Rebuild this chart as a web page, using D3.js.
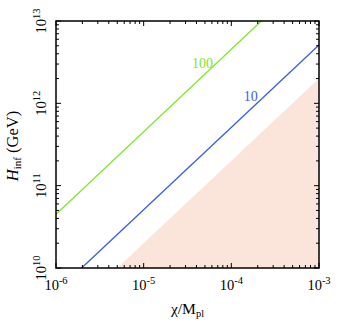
<!DOCTYPE html>
<html>
<head>
<meta charset="utf-8">
<script src="https://cdn.jsdelivr.net/npm/d3@7"></script>
<style>
  body { margin: 0; background: #fff; }
  svg text { font-family: "Liberation Serif", "Times New Roman", serif; }
</style>
</head>
<body>
<svg></svg>
<script>
var width = 352,
    height = 323;
var margin = {left: 56, right: 33, top: 21, bottom: 55};

// data
var chiDomain = [1e-6, 1e-3];
var hDomain = [1e10, 1e13];
var majorX = [1e-6, 1e-5, 1e-4, 1e-3];
var majorY = [1e10, 1e11, 1e12, 1e13];
var line100 = [[1e-6, 4.5e10], [2.2e-4, 1e13]];
var line10 = [[1.96e-6, 1e10], [1e-3, 5.1e12]];
var excluded = [[5e-6, 1e10], [1e-3, 2e12], [1e-3, 1e10]];
var curveLabels = [
    {text: "100", at: [4.7e-5, 2.7e12], color: "#7fe62c"},
    {text: "10", at: [1.67e-4, 1.08e12], color: "#3a5bea"}
];

var svg = d3.select("svg")
    .attr("width", width)
    .attr("height", height);

var x = d3.scaleLog().domain(chiDomain).range([margin.left, width - margin.right]);
var y = d3.scaleLog().domain(hDomain).range([height - margin.bottom, margin.top]);

var x0 = x.range()[0], x1 = x.range()[1],
    y0 = y.range()[0], y1 = y.range()[1];

var line = d3.line().x(d => x(d[0])).y(d => y(d[1]));

// shaded region
svg.append("path")
    .datum(excluded)
    .attr("d", d => line(d) + "Z")
    .attr("fill", "#fbe4da");

svg.append("path")
    .datum(line100)
    .attr("d", line)
    .attr("fill", "none")
    .attr("stroke", "#7fe62c")
    .attr("stroke-width", 1.3);

svg.append("path")
    .datum(line10)
    .attr("d", line)
    .attr("fill", "none")
    .attr("stroke", "#3a5bea")
    .attr("stroke-width", 1.3);

svg.selectAll(".clabel")
    .data(curveLabels)
    .enter().append("text")
    .attr("class", "clabel")
    .attr("x", d => x(d.at[0]))
    .attr("y", d => y(d.at[1]))
    .attr("text-anchor", "middle")
    .attr("font-size", 14)
    .attr("fill", d => d.color)
    .text(d => d.text);

// ticks, all inward on every side
function minorTicks(domain) {
    var out = [];
    var lo = Math.round(Math.log10(domain[0])), hi = Math.round(Math.log10(domain[1]));
    for (var e = lo; e < hi; e++)
        for (var k = 2; k <= 9; k++) out.push(k * Math.pow(10, e));
    return out;
}
var ticksG = svg.append("g").attr("stroke", "#000").attr("stroke-width", 1);

function drawX(vals, len) {
    vals.forEach(function (v) {
        var px = x(v);
        ticksG.append("line").attr("x1", px).attr("x2", px).attr("y1", y0).attr("y2", y0 - len);
        ticksG.append("line").attr("x1", px).attr("x2", px).attr("y1", y1).attr("y2", y1 + len);
    });
}
function drawY(vals, len) {
    vals.forEach(function (v) {
        var py = y(v);
        ticksG.append("line").attr("x1", x0).attr("x2", x0 + len).attr("y1", py).attr("y2", py);
        ticksG.append("line").attr("x1", x1).attr("x2", x1 - len).attr("y1", py).attr("y2", py);
    });
}
drawX(minorTicks(chiDomain), 3);
drawX(majorX, 5);
drawY(minorTicks(hDomain), 3);
drawY(majorY, 5);

svg.append("rect")
    .attr("x", x0).attr("y", y1)
    .attr("width", x1 - x0).attr("height", y0 - y1)
    .attr("fill", "none")
    .attr("stroke", "#000")
    .attr("stroke-width", 1.5);

// tick labels
function powerLabel(sel, v) {
    var e = Math.round(Math.log10(v));
    sel.append("tspan").attr("font-size", 14.5).text("10");
    sel.append("tspan").attr("font-size", 10.5).attr("dy", -6).text(e);
}
majorX.forEach(function (v) {
    var t = svg.append("text")
        .attr("x", x(v))
        .attr("y", 290)
        .attr("text-anchor", "middle");
    powerLabel(t, v);
});
majorY.forEach(function (v) {
    var t = svg.append("text")
        .attr("transform", "translate(46," + y(v) + ") rotate(-90)")
        .attr("text-anchor", "middle");
    powerLabel(t, v);
});

// axis titles
var xt = svg.append("text")
    .attr("x", (x0 + x1) / 2)
    .attr("y", 314)
    .attr("text-anchor", "middle")
    .attr("font-size", 15.5);
xt.append("tspan").text("\u03c7/M");
xt.append("tspan").attr("font-size", 10.5).attr("dy", 3).text("pl");

var yt = svg.append("text")
    .attr("transform", "translate(18,146) rotate(-90)")
    .attr("text-anchor", "middle")
    .attr("font-size", 16.5);
yt.append("tspan").attr("font-style", "italic").text("H");
yt.append("tspan").attr("font-size", 11).attr("dy", 3).text("inf");
yt.append("tspan").attr("dy", -3).text(" (GeV)");
</script>
</body>
</html>
